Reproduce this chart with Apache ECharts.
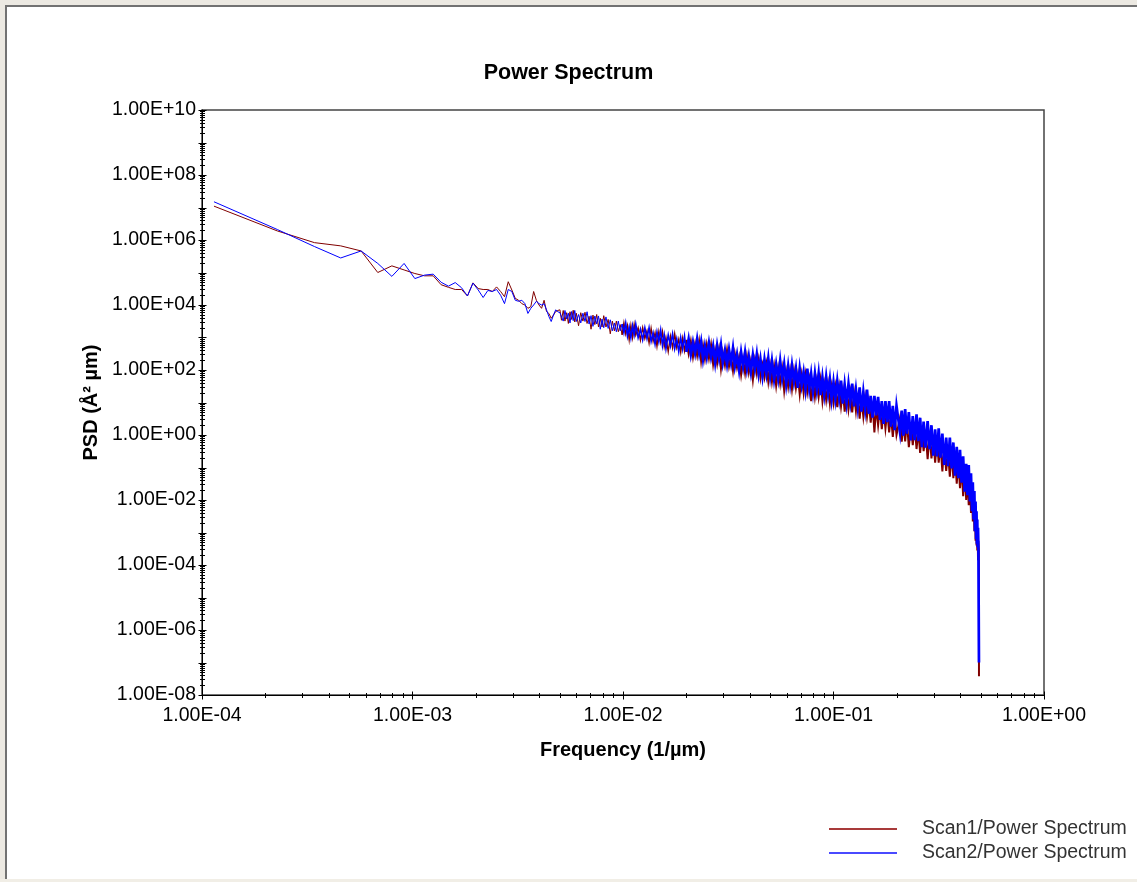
<!DOCTYPE html>
<html>
<head>
<meta charset="utf-8">
<script src="https://cdn.jsdelivr.net/npm/echarts@6/dist/echarts.min.js"></script>
<style>
html,body{margin:0;padding:0;background:#ffffff;}
#chart{width:1137px;height:882px;}
</style>
</head>
<body>
<div id="chart"></div>
<script>
// ---------------- data ----------------
const seriesNames = ['Scan1/Power Spectrum', 'Scan2/Power Spectrum'];

const frequency = [
1.14e-4, 2.28e-4, 3.42e-4, 4.56e-4, 5.70e-4, 6.84e-4, 7.98e-4, 9.12e-4, 1.026e-3, 1.14e-3,
1.254e-3, 1.368e-3, 1.482e-3, 1.596e-3, 1.71e-3, 1.824e-3, 1.938e-3, 2.052e-3, 2.166e-3, 2.28e-3,
2.394e-3, 2.508e-3, 2.622e-3, 2.736e-3, 2.85e-3, 2.964e-3, 3.078e-3, 3.192e-3, 3.306e-3, 3.42e-3,
3.534e-3, 3.648e-3, 3.762e-3, 3.876e-3, 3.99e-3, 4.104e-3, 4.218e-3, 4.332e-3, 4.446e-3, 4.56e-3,
4.674e-3, 4.788e-3, 4.902e-3, 5.016e-3,
5.1e-3, 5.2e-3, 5.3e-3, 5.4e-3, 5.5e-3, 5.6e-3, 5.7e-3, 5.8e-3, 5.9e-3, 6.0e-3,
6.15e-3, 6.3e-3, 6.45e-3, 6.6e-3, 6.75e-3, 6.9e-3, 7.05e-3, 7.2e-3, 7.35e-3, 7.5e-3,
7.65e-3, 7.8e-3, 7.95e-3, 8.1e-3, 8.3e-3, 8.5e-3, 8.7e-3, 8.9e-3, 9.1e-3, 9.3e-3,
9.5e-3, 9.7e-3, 9.9e-3,
1.01e-2, 1.03e-2, 1.05e-2, 1.07e-2, 1.09e-2, 1.11e-2, 1.13e-2, 1.15e-2, 1.18e-2, 1.21e-2,
1.24e-2, 1.27e-2, 1.30e-2, 1.33e-2, 1.36e-2, 1.39e-2, 1.42e-2, 1.45e-2, 1.48e-2, 1.51e-2,
1.54e-2, 1.57e-2, 1.60e-2, 1.64e-2, 1.68e-2, 1.72e-2, 1.76e-2, 1.80e-2, 1.84e-2, 1.88e-2,
1.92e-2, 1.96e-2, 2.00e-2,
2.05e-2, 2.10e-2, 2.15e-2, 2.20e-2, 2.25e-2, 2.30e-2, 2.35e-2, 2.40e-2, 2.45e-2, 2.50e-2,
2.56e-2, 2.62e-2, 2.68e-2, 2.74e-2, 2.80e-2, 2.86e-2, 2.92e-2, 2.98e-2, 3.05e-2, 3.12e-2,
3.19e-2, 3.26e-2, 3.33e-2, 3.40e-2, 3.48e-2, 3.56e-2, 3.64e-2, 3.72e-2, 3.80e-2, 3.88e-2,
3.96e-2, 4.05e-2, 4.14e-2, 4.23e-2, 4.32e-2, 4.41e-2, 4.50e-2, 4.60e-2, 4.70e-2, 4.80e-2,
4.90e-2, 5.00e-2,
5.10e-2, 5.22e-2, 5.34e-2, 5.46e-2, 5.58e-2, 5.70e-2, 5.83e-2, 5.96e-2, 6.09e-2, 6.22e-2,
6.35e-2, 6.49e-2, 6.63e-2, 6.77e-2, 6.91e-2, 7.06e-2, 7.21e-2, 7.36e-2, 7.51e-2, 7.67e-2,
7.83e-2, 7.99e-2, 8.16e-2, 8.33e-2, 8.50e-2, 8.68e-2, 8.86e-2, 9.04e-2, 9.23e-2, 9.42e-2,
9.61e-2, 9.80e-2, 1.00e-1,
0.1020, 0.1042, 0.1064, 0.1086, 0.1108, 0.1130, 0.1154, 0.1178, 0.1202, 0.1227,
0.1252, 0.1278, 0.1304, 0.1331, 0.1358, 0.1386, 0.1414, 0.1443, 0.1472, 0.1502,
0.1533, 0.1564, 0.1596, 0.1629, 0.1662, 0.1696, 0.1730, 0.1765, 0.1801, 0.1838,
0.1875, 0.1913, 0.1952, 0.1992,
0.203, 0.207, 0.211, 0.215, 0.219, 0.223, 0.228, 0.233, 0.238, 0.243,
0.248, 0.253, 0.258, 0.263, 0.268, 0.274, 0.280, 0.286, 0.292, 0.298,
0.304, 0.310, 0.316, 0.322, 0.329, 0.336, 0.343, 0.350, 0.357, 0.364,
0.371, 0.378, 0.385, 0.392, 0.399, 0.406, 0.413, 0.420, 0.427, 0.433,
0.439, 0.445, 0.450, 0.455, 0.459, 0.463, 0.467, 0.470, 0.473, 0.476,
0.478, 0.480, 0.482, 0.484, 0.486, 0.488, 0.4895, 0.4905, 0.491
];

// Scan1 (dark red) PSD values, Å² µm
const scan1 = [
1.1e7, 1.9e6, 8.3e5, 6.6e5, 4.6e5, 1.0e5, 1.6e5, 1.2e5, 9.3e4, 7.9e4,
7.9e4, 4.2e4, 3.5e4, 3.0e4, 3.0e4, 1.9e4, 4.8e4, 3.2e4, 3.0e4, 3.0e4,
2.6e4, 3.6e4, 2.6e4, 1.8e4, 5.2e4, 2.9e4, 1.6e4, 1.4e4, 1.1e4, 1.0e4,
7.9e3, 8.9e3, 2.6e4, 1.4e4, 1.0e4, 7.9e3, 1.4e4, 6.3e3, 5.5e3, 3.9e3,
4.9e3, 6.3e3, 6.8e3, 7.1e3,
3.4e3, 6.8e3, 3.2e3, 5.8e3, 2.7e3, 6.2e3, 3.6e3, 6.9e3, 3.0e3, 5.6e3,
2.3e3, 5.8e3, 3.2e3, 6.0e3, 2.7e3, 4.5e3, 1.8e3, 4.9e3, 2.5e3, 5.1e3,
2.1e3, 3.9e3, 2.1e3, 4.7e3, 2.1e3, 3.6e3, 1.3e3, 3.2e3, 1.6e3, 3.2e3,
1.5e3, 2.5e3, 1.2e3,
2.8e3, 1.3e3, 2.3e3, 8.5e2, 2.3e3, 1.0e3, 2.5e3, 1.2e3, 2.0e3, 8.3e2,
2.0e3, 9.3e2, 1.6e3, 6.8e2, 1.9e3, 7.6e2, 1.4e3, 5.4e2, 1.5e3, 7.1e2,
1.5e3, 5.2e2, 1.0e3, 3.7e2, 1.1e3, 4.8e2, 1.3e3, 4.9e2, 8.9e2, 3.5e2,
9.5e2, 3.9e2, 8.5e2,
3.2e2, 7.6e2, 2.5e2, 6.3e2, 2.8e2, 7.4e2, 1.9e2, 5.5e2, 2.2e2, 5.9e2,
2.3e2, 5.9e2, 1.5e2, 4.0e2, 1.6e2, 4.2e2, 1.1e2, 3.4e2, 1.4e2, 4.1e2,
1.3e2, 2.6e2, 95, 3.1e2, 1.2e2, 2.5e2, 72, 2.1e2, 81, 2.5e2,
85, 1.9e2, 50, 1.9e2, 78, 2.0e2, 58, 1.4e2, 60, 1.5e2,
44, 1.3e2,
44, 1.3e2, 33, 1.1e2, 38, 1.1e2, 23, 85, 31, 91,
26, 91, 28, 68, 18, 68, 20, 68, 21, 50,
11, 52, 15, 45, 15, 48, 11, 35, 12, 35,
9.5, 30, 10,
29, 7.2, 28, 7.6, 22, 5.2, 24, 6.3, 19, 5.0,
19, 5.5, 19, 3.2, 13, 3.7, 13, 3.7, 10, 2.4,
10, 1.2, 7.4, 2.0, 7.1, 1.5, 5.8, 1.6, 5.6, 1.2,
4.0, 0.87, 4.0, 1.0,
0.93, 3.4, 0.62, 2.7, 0.63, 2.8, 0.42, 2.1, 0.49, 2.0,
0.37, 1.4, 0.28, 1.6, 0.32, 1.2, 0.18, 1.0, 0.19, 0.74,
0.14, 0.74, 0.14, 0.54, 0.076, 0.46, 0.079, 0.30, 0.052, 0.31,
0.047, 0.21, 0.032, 0.17, 0.023, 0.11, 0.013, 0.081, 0.010, 0.054,
0.0069, 0.041, 0.0040, 0.022, 0.0022, 0.013, 0.0011, 0.0063, 5.6e-4, 0.0032,
4.0e-4, 0.0018, 2.8e-4, 0.0010, 1.4e-4, 5.6e-4, 3.5e-4, 2.8e-4, 3.8e-8
];

// Scan2 (blue) PSD values, Å² µm
const scan2 = [
1.5e7, 2.1e6, 6.3e5, 2.8e5, 4.6e5, 1.9e5, 7.6e4, 1.9e5, 6.5e4, 8.3e4,
8.9e4, 5.0e4, 3.8e4, 4.9e4, 3.4e4, 1.9e4, 4.7e4, 2.9e4, 1.7e4, 2.8e4,
2.6e4, 3.0e4, 2.0e4, 1.1e4, 3.0e4, 2.6e4, 1.4e4, 1.3e4, 1.4e4, 1.1e4,
5.5e3, 7.9e3, 1.0e4, 1.3e4, 1.1e4, 1.0e4, 1.1e4, 7.1e3, 4.4e3, 3.1e3,
4.9e3, 7.1e3, 6.2e3, 5.8e3,
6.2e3, 3.2e3, 6.8e3, 3.7e3, 5.6e3, 2.8e3, 6.3e3, 3.3e3, 6.8e3, 3.1e3,
5.1e3, 2.8e3, 5.6e3, 3.1e3, 6.2e3, 2.6e3, 4.7e3, 2.2e3, 4.6e3, 2.6e3,
4.6e3, 1.8e3, 3.7e3, 2.0e3, 4.3e3, 1.9e3, 3.5e3, 1.6e3, 2.8e3, 1.5e3,
3.2e3, 1.6e3, 2.6e3,
1.4e3, 2.8e3, 1.1e3, 2.1e3, 9.8e2, 2.3e3, 1.2e3, 2.6e3, 9.8e2, 1.8e3,
8.5e2, 2.0e3, 9.3e2, 2.0e3, 7.6e2, 1.4e3, 6.2e2, 1.5e3, 7.4e2, 1.7e3,
5.6e2, 1.2e3, 4.5e2, 1.2e3, 5.5e2, 1.3e3, 4.5e2, 9.1e2, 3.7e2, 1.0e3,
4.4e2, 1.1e3, 3.6e2,
8.9e2, 3.0e2, 7.2e2, 3.3e2, 8.9e2, 3.3e2, 7.4e2, 2.2e2, 5.4e2, 2.5e2,
6.8e2, 2.5e2, 5.4e2, 1.7e2, 5.6e2, 2.3e2, 5.8e2, 1.7e2, 4.0e2, 1.5e2,
4.2e2, 1.7e2, 4.7e2, 1.3e2, 3.0e2, 1.0e2, 3.5e2, 1.3e2, 3.5e2, 1.1e2,
2.6e2, 89, 2.9e2, 1.1e2, 3.0e2, 81, 2.1e2, 65, 2.1e2, 79,
2.3e2, 66,
1.9e2, 52, 1.5e2, 55, 1.9e2, 55, 1.5e2, 38, 1.3e2, 40,
1.4e2, 44, 1.1e2, 28, 1.1e2, 35, 85, 26, 1.1e2, 27,
76, 22, 78, 25, 78, 17, 59, 18, 62, 19,
51, 13, 42,
13, 46, 14, 47, 9.3, 35, 10, 37, 11, 38,
7.6, 25, 7.4, 29, 5.2, 21, 6.3, 25, 4.5, 16,
3.4, 16, 4.0, 15, 2.9, 11, 2.2, 11, 2.5, 11,
1.8, 7.9, 1.4, 7.9,
7.4, 1.2, 5.6, 0.95, 6.3, 1.1, 5.1, 0.68, 3.8, 0.69,
4.3, 0.65, 3.4, 0.42, 2.6, 0.41, 2.7, 0.37, 2.0, 0.23,
1.5, 0.22, 1.6, 0.20, 1.1, 0.12, 0.83, 0.11, 0.83, 0.093,
0.59, 0.056, 0.43, 0.047, 0.35, 0.034, 0.22, 0.018, 0.13, 0.014,
0.12, 0.0091, 0.066, 0.0045, 0.035, 0.0025, 0.019, 0.0011, 0.0089, 6.3e-4,
0.0045, 4.5e-4, 0.0025, 3.5e-4, 0.0014, 3.5e-4, 4.0e-4, 3.2e-4, 1.0e-7
];

// axis decades (tick marks at 1..9 × 10^e); labelled decades
const xDecades = [-4, -3, -2, -1, 0];
const yDecades = [-8, -7, -6, -5, -4, -3, -2, -1, 0, 1, 2, 3, 4, 5, 6, 7, 8, 9, 10];
const yLabelDecades = [-8, -6, -4, -2, 0, 2, 4, 6, 8, 10];

// indices where the noise band gets denser (drawn with heavier strokes)
const midStart = 76;
const denseStart = 109;

// ---------------- chart ----------------
const FONT = "'Liberation Sans', Arial, Helvetica, sans-serif";
const X_MIN = Math.pow(10, xDecades[0]), X_MAX = Math.pow(10, xDecades[xDecades.length - 1]);
const Y_MIN = Math.pow(10, yDecades[0]), Y_MAX = Math.pow(10, yDecades[yDecades.length - 1]);

function sci(v) {
  const e = Math.round(Math.log10(v));
  const a = Math.abs(e);
  return '1.00E' + (e < 0 ? '-' : '+') + (a < 10 ? '0' + a : '' + a);
}

const tickData = [];
xDecades.forEach(function (e, i) {
  const last = i === xDecades.length - 1;
  for (let m = 1; m <= (last ? 1 : 9); m++) tickData.push([m * Math.pow(10, e), Y_MIN, 0, m === 1 ? 1 : 0]);
});
yDecades.forEach(function (e, i) {
  const last = i === yDecades.length - 1;
  for (let m = 1; m <= (last ? 1 : 9); m++) tickData.push([X_MIN, m * Math.pow(10, e), 1, m === 1 ? 1 : 0]);
});

function zip(xs, ys) { return xs.map(function (x, i) { return [x, ys[i]]; }); }
const data1 = zip(frequency, scan1);
const data2 = zip(frequency, scan2);

function lineSeries(name, data, color, width, z) {
  return {
    name: name, type: 'line', data: data, showSymbol: false, symbol: 'none',
    lineStyle: { color: color, width: width, join: 'miter' }, itemStyle: { color: color }, z: z
  };
}

const chart = echarts.init(document.getElementById('chart'), null, { renderer: 'canvas' });
chart.setOption({
  animation: false,
  backgroundColor: '#ffffff',
  graphic: [
    { type: 'rect', shape: { x: 0, y: 0, width: 1137, height: 5 }, style: { fill: '#ece9e2' }, silent: true },
    { type: 'rect', shape: { x: 0, y: 0, width: 5, height: 882 }, style: { fill: '#ece9e2' }, silent: true },
    { type: 'rect', shape: { x: 0, y: 879, width: 1137, height: 3 }, style: { fill: '#f1eee6' }, silent: true },
    { type: 'polyline', shape: { points: [[6, 879], [6, 6], [1137, 6]] }, style: { stroke: '#727272', lineWidth: 2, fill: null }, silent: true }
  ],
  title: {
    text: 'Power Spectrum', left: 'center', top: 62, padding: 0,
    textStyle: { fontSize: 21.5, fontWeight: 'bold', color: '#000', fontFamily: FONT }
  },
  legend: {
    orient: 'vertical', left: 829, top: 819, padding: 0,
    itemWidth: 68, itemHeight: 2, itemGap: 4, icon: 'rect', selectedMode: false,
    textStyle: { fontSize: 19.5, color: '#333', fontFamily: FONT, padding: [0, 0, 0, 20], lineHeight: 18 },
    data: [
      { name: seriesNames[0], itemStyle: { color: '#a83a3a' } },
      { name: seriesNames[1], itemStyle: { color: '#4a4aff' } }
    ]
  },
  grid: { left: 202, top: 110, width: 842, height: 585, show: true, borderColor: '#444', borderWidth: 1.5, backgroundColor: 'transparent' },
  xAxis: {
    type: 'log', logBase: 10, min: X_MIN, max: X_MAX, splitNumber: 4,
    axisLine: { show: true, lineStyle: { color: '#000', width: 1 } },
    axisTick: { show: false }, splitLine: { show: false },
    axisLabel: {
      formatter: sci, fontSize: 19.5, color: '#000', margin: 11, fontFamily: FONT,
      customValues: xDecades.map(function (e) { return Math.pow(10, e); })
    },
    name: 'Frequency (1/µm)', nameLocation: 'middle', nameGap: 45,
    nameTextStyle: { fontSize: 20, fontWeight: 'bold', color: '#000', fontFamily: FONT }
  },
  yAxis: {
    type: 'log', logBase: 10, min: Y_MIN, max: Y_MAX, splitNumber: 18,
    axisLine: { show: true, lineStyle: { color: '#000', width: 1 } },
    axisTick: { show: false }, splitLine: { show: false },
    axisLabel: {
      formatter: sci, fontSize: 19.5, color: '#000', margin: 6, fontFamily: FONT,
      customValues: yLabelDecades.map(function (e) { return Math.pow(10, e); })
    },
    name: 'PSD (Å² µm)', nameLocation: 'middle', nameRotate: 90, nameGap: 100,
    nameTextStyle: { fontSize: 20, fontWeight: 'bold', color: '#000', fontFamily: FONT }
  },
  series: [
    lineSeries(seriesNames[0], data1.slice(0, midStart + 1), '#800000', 1, 2),
    lineSeries(seriesNames[0], data1.slice(midStart, denseStart + 1), '#800000', 1.4, 2),
    lineSeries(seriesNames[0], data1.slice(denseStart), '#800000', 2.0, 2),
    lineSeries(seriesNames[1], data2.slice(0, midStart + 1), '#0000ff', 1, 3),
    lineSeries(seriesNames[1], data2.slice(midStart, denseStart + 1), '#0000ff', 1.6, 3),
    lineSeries(seriesNames[1], data2.slice(denseStart), '#0000ff', 2.7, 3),
    {
      name: 'ticks', type: 'custom', data: tickData, clip: false, silent: true, z: 5,
      renderItem: function (params, api) {
        const p = api.coord([api.value(0), api.value(1)]);
        const major = api.value(3) === 1;
        const L = major ? 4 : 2.5;
        const x = Math.round(p[0]) + 0.5, y = Math.round(p[1]) + 0.5;
        const shape = api.value(2) === 0 ? { x1: x, y1: y - L, x2: x, y2: y + L } : { x1: x - L, y1: y, x2: x + L, y2: y };
        return { type: 'line', shape: shape, style: { stroke: '#000', lineWidth: 1 } };
      }
    }
  ]
});
</script>
</body>
</html>
